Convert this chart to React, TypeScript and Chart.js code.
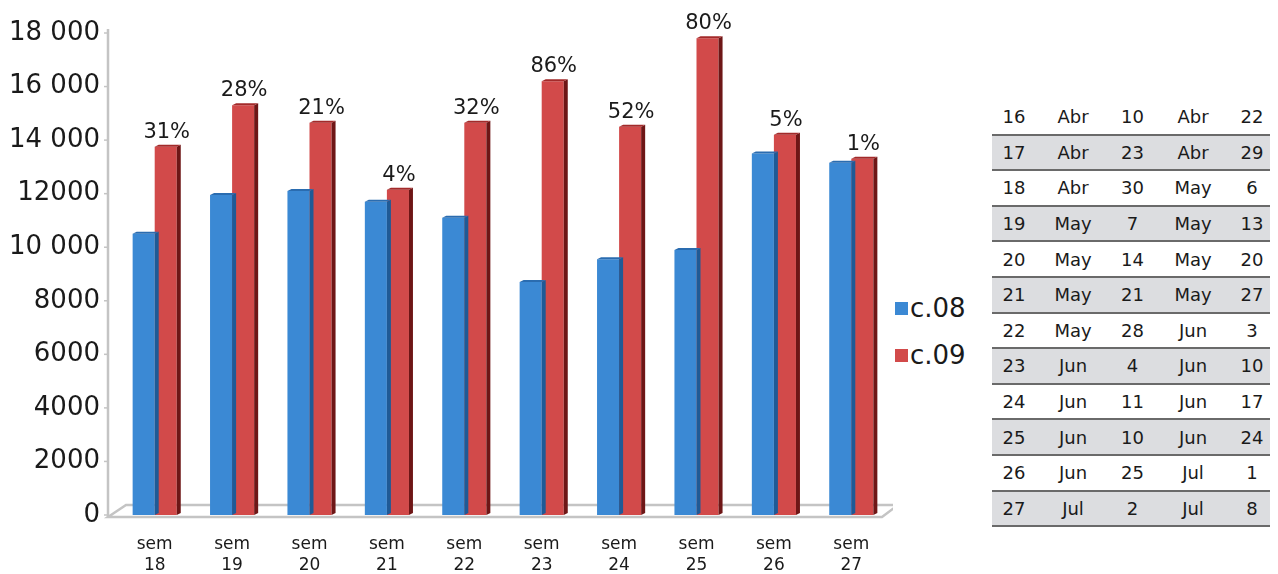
import React, { useEffect, useRef } from "react";
import { Chart, registerables } from "chart.js";

Chart.register(...registerables);

// Weekly totals, seasons c.08 and c.09
const categories = [
  ["sem", "18"], ["sem", "19"], ["sem", "20"], ["sem", "21"], ["sem", "22"],
  ["sem", "23"], ["sem", "24"], ["sem", "25"], ["sem", "26"], ["sem", "27"],
];
const seriesC08 = [10500, 11950, 12100, 11700, 11100, 8700, 9550, 9900, 13500, 13150];
const seriesC09 = [13750, 15300, 14650, 12150, 14650, 16200, 14500, 17800, 14200, 13300];
// Year-on-year change shown above each c.09 bar
const changePct = [31, 28, 21, 4, 32, 86, 52, 80, 5, 1];
const yTickLabels = ["0", "2000", "4000", "6000", "8000", "10 000", "12000", "14 000", "16 000", "18 000"];

// Week calendar: week, from month, from day, to month, to day
const weekRows = [
  ["16", "Abr", "10", "Abr", "22"],
  ["17", "Abr", "23", "Abr", "29"],
  ["18", "Abr", "30", "May", "6"],
  ["19", "May", "7", "May", "13"],
  ["20", "May", "14", "May", "20"],
  ["21", "May", "21", "May", "27"],
  ["22", "May", "28", "Jun", "3"],
  ["23", "Jun", "4", "Jun", "10"],
  ["24", "Jun", "11", "Jun", "17"],
  ["25", "Jun", "10", "Jun", "24"],
  ["26", "Jun", "25", "Jul", "1"],
  ["27", "Jul", "2", "Jul", "8"],
];

const BLUE = "#3b89d4";
const RED = "#d24a4a";
const SIDE = ["#1f5a96", "#6e1616"];
const TOP = ["#2a6cb0", "#a32a2a"];
const FONT = "'DejaVu Sans', Verdana, sans-serif";

// Floor, left axis line and per-bar depth faces
const frame3d = {
  id: "frame3d",
  beforeDatasetsDraw(chart: any) {
    const { ctx, chartArea, scales } = chart;
    const y0 = scales.y.getPixelForValue(0);
    const axisX = chartArea.left - 8;
    ctx.save();
    ctx.strokeStyle = "#c4c4c4";
    ctx.lineWidth = 2.5;
    // vertical axis
    ctx.beginPath();
    ctx.moveTo(axisX, scales.y.getPixelForValue(18000) - 4);
    ctx.lineTo(axisX, y0 + 2);
    ctx.stroke();
    ctx.lineWidth = 1.5;
    for (let v = 0; v <= 18000; v += 2000) {
      const py = scales.y.getPixelForValue(v);
      ctx.beginPath();
      ctx.moveTo(axisX - 4, py);
      ctx.lineTo(axisX, py);
      ctx.stroke();
    }
    // floor outline
    ctx.lineWidth = 2.5;
    ctx.beginPath();
    ctx.moveTo(axisX, y0 + 2);
    ctx.lineTo(axisX + 18, y0 - 10);
    ctx.lineTo(chartArea.right + 8, y0 - 10);
    ctx.lineTo(chartArea.right - 8, y0 + 2);
    ctx.closePath();
    ctx.stroke();
    ctx.restore();
  },
  afterDatasetDraw(chart: any, args: any) {
    const { ctx } = chart;
    const meta = chart.getDatasetMeta(args.index);
    const d = 4;
    ctx.save();
    meta.data.forEach((bar: any) => {
      const { x, y, base, width } = bar.getProps(["x", "y", "base", "width"], true);
      const r = x + width / 2;
      const l = x - width / 2;
      ctx.fillStyle = SIDE[args.index];
      ctx.beginPath();
      ctx.moveTo(r, y);
      ctx.lineTo(r + d, y - 2);
      ctx.lineTo(r + d, base - 2);
      ctx.lineTo(r, base);
      ctx.closePath();
      ctx.fill();
      ctx.fillStyle = TOP[args.index];
      ctx.beginPath();
      ctx.moveTo(l, y);
      ctx.lineTo(l + d, y - 2);
      ctx.lineTo(r + d, y - 2);
      ctx.lineTo(r, y);
      ctx.closePath();
      ctx.fill();
    });
    ctx.restore();
  },
  afterDatasetsDraw(chart: any) {
    const { ctx } = chart;
    const meta = chart.getDatasetMeta(1);
    ctx.save();
    ctx.font = `21px ${FONT}`;
    ctx.fillStyle = "#1a1a1a";
    ctx.textAlign = "center";
    ctx.textBaseline = "alphabetic";
    meta.data.forEach((bar: any, i: number) => {
      ctx.fillText(`${changePct[i]}%`, bar.x + 1, bar.y - 9);
    });
    ctx.restore();
  },
};

function WeekChart() {
  const ref = useRef<HTMLCanvasElement | null>(null);
  useEffect(() => {
    if (!ref.current) return;
    const chart = new Chart(ref.current, {
      type: "bar",
      data: {
        labels: categories,
        datasets: [
          { label: "c.08", data: seriesC08, backgroundColor: BLUE },
          { label: "c.09", data: seriesC09, backgroundColor: RED },
        ],
      },
      options: {
        animation: false,
        responsive: false,
        maintainAspectRatio: false,
        layout: { padding: { top: 25, right: 3, left: 0, bottom: 0 } },
        datasets: { bar: { barPercentage: 1, categoryPercentage: 0.57 } },
        plugins: { legend: { display: false }, tooltip: { enabled: false } },
        scales: {
          x: {
            grid: { display: false, drawTicks: false },
            border: { display: false },
            ticks: {
              color: "#1a1a1a",
              font: { family: FONT, size: 17, lineHeight: 1.18 },
              padding: 20,
              maxRotation: 0,
              autoSkip: false,
            },
            afterFit: (axis: any) => { axis.height = 59; },
          },
          y: {
            min: 0,
            max: 18000,
            grid: { display: false, drawTicks: false },
            border: { display: false },
            ticks: {
              stepSize: 2000,
              color: "#1a1a1a",
              font: { family: FONT, size: 26 },
              padding: 16,
              callback: (v: any) => yTickLabels[Math.round(Number(v) / 2000)],
            },
            afterFit: (axis: any) => {
              axis.width = 108;
              axis.paddingTop = 0;
              axis.paddingBottom = 0;
            },
          },
        },
      },
      plugins: [frame3d],
    });
    return () => chart.destroy();
  }, []);
  return <canvas ref={ref} width={885} height={566} style={{ display: "block" }} />;
}

export default function App() {
  const swatch = (color: string) => (
    <span style={{ display: "inline-block", width: 13, height: 13, background: color, marginRight: 2 }} />
  );
  const colWidths = [44, 74, 45, 76, 42];
  return (
    <div style={{ position: "relative", width: 1262, height: 566, fontFamily: FONT }}>
      <div style={{ position: "absolute", left: 0, top: 0 }}>
        <WeekChart />
      </div>
      <div style={{ position: "absolute", left: 887, top: 277, fontSize: 26, color: "#1a1a1a", lineHeight: "47px" }}>
        <div style={{ display: "flex", alignItems: "center" }}>{swatch(BLUE)}c.08</div>
        <div style={{ display: "flex", alignItems: "center" }}>{swatch(RED)}c.09</div>
      </div>
      <table
        style={{
          position: "absolute",
          left: 984,
          top: 92,
          borderCollapse: "collapse",
          fontSize: 18,
          color: "#1a1a1a",
          tableLayout: "fixed",
          width: 281,
        }}
      >
        <colgroup>
          {colWidths.map((w, i) => <col key={i} style={{ width: w }} />)}
        </colgroup>
        <tbody>
          {weekRows.map((row, i) => (
            <tr key={i} style={{ background: i % 2 === 1 ? "#dcdde0" : "#ffffff", borderBottom: "2px solid #6a6a6a" }}>
              {row.map((cell, j) => (
                <td key={j} style={{ height: 33.6, padding: 0, textAlign: "center" }}>{cell}</td>
              ))}
            </tr>
          ))}
        </tbody>
      </table>
    </div>
  );
}
